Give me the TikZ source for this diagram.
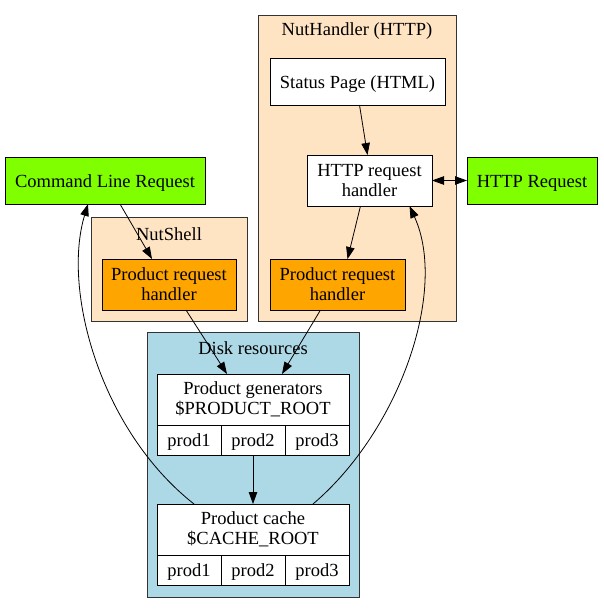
\documentclass[tikz,border=0pt]{standalone}
\usepackage{fontspec}
\setmainfont{Liberation Serif}
\usetikzlibrary{arrows.meta, positioning}
\definecolor{reqGreen}{RGB}{127, 255, 0}
\definecolor{handlerOrange}{RGB}{255, 165, 0}
\definecolor{clusterBisque}{RGB}{255, 228, 196}
\definecolor{diskBlue}{RGB}{173, 216, 230}

\begin{document}
\begin{tikzpicture}[x=1pt, y=-1pt,
    every node/.style={font=\fontsize{18.5}{20}\selectfont},
    block/.style={rectangle, draw=black, fill=#1, inner sep=0pt, outer sep=0pt, align=center, line width=0.8pt},
    oneline/.style={text height=16pt, text depth=3pt},
    cluster/.style={rectangle, draw=black!80, fill=#1, inner sep=0pt, line width=0.8pt},
    cell/.style={block=white, oneline, minimum width=64pt, minimum height=30pt},
    clusterlabel/.style={inner sep=0pt},
    flow/.style={-{Triangle[length=12pt, width=8.5pt]}, draw=black, line width=0.8pt},
]
\useasboundingbox (0,0) rectangle (603,613);
% CLUSTERS
\node[cluster=clusterBisque, minimum width=198pt, minimum height=306pt] (nuthandler) at (357,168) {};
\node[clusterlabel] at (357,31.5) {NutHandler (HTTP)};
\node[cluster=clusterBisque, minimum width=156pt, minimum height=104pt] (nutshell) at (169,269) {};
\node[clusterlabel] at (169,234.5) {NutShell};
\node[cluster=diskBlue, minimum width=212pt, minimum height=265pt] (disk) at (253,464.5) {};
\node[clusterlabel] at (253,348.5) {Disk resources};
% REQUESTS
\node[block=reqGreen, oneline, minimum width=200pt, minimum height=47pt] (cline) at (105,180.5) {Command Line Request};
\node[block=reqGreen, oneline, minimum width=130pt, minimum height=47pt] (httpreq) at (532,180.5) {HTTP Request};
% HANDLERS
\node[block=white, oneline, minimum width=175pt, minimum height=47pt] (status) at (357.5,81.5) {Status Page (HTML)};
\node[block=white, minimum width=125pt, minimum height=51pt] (http) at (369.5,180.5) {HTTP request\\handler};
\node[block=handlerOrange, minimum width=135pt, minimum height=51pt] (prh_http) at (337.5,284.5) {Product request\\handler};
\node[block=handlerOrange, minimum width=134pt, minimum height=51pt] (prh_shell) at (169,284.5) {Product request\\handler};
% DISK RECORDS
\node[block=white, minimum width=192pt, minimum height=51pt] (gen) at (253,399.5) {Product generators\\ \$PRODUCT\_ROOT};
\node[cell, anchor=north west] (gen1) at (gen.south west) {prod1};
\node[cell, right=0pt of gen1] (gen2) {prod2};
\node[cell, right=0pt of gen2] (gen3) {prod3};
\node[block=white, minimum width=192pt, minimum height=51pt] (cache) at (253,529.5) {Product cache\\ \$CACHE\_ROOT};
\node[cell, anchor=north west] (cache1) at (cache.south west) {prod1};
\node[cell, right=0pt of cache1] (cache2) {prod2};
\node[cell, right=0pt of cache2] (cache3) {prod3};
% EDGES
\draw[flow] ([xshift=15pt]cline.south) -- ([xshift=-17pt]prh_shell.north);
\draw[flow] ([xshift=2pt]status.south) -- ([xshift=-2pt]http.north);
\draw[flow, {Triangle[length=12pt, width=8.5pt]}-{Triangle[length=12pt, width=8.5pt]}] (http.east) -- (httpreq.west);
\draw[flow] ([xshift=-9pt]http.south) -- ([xshift=10pt]prh_http.north);
\draw[flow] ([xshift=17pt]prh_shell.south) -- ([xshift=-26pt]gen.north);
\draw[flow] ([xshift=-17pt]prh_http.south) -- ([xshift=29pt]gen.north);
\draw[flow] (gen2.south) -- (cache.north);
\draw[flow] ([xshift=37pt]cache.north west) .. controls (100,430) and (62,290) .. ([xshift=-17pt]cline.south);
\draw[flow] ([xshift=-36pt]cache.north east) .. controls (400,430) and (448,290) .. ([xshift=40pt]http.south);
\end{tikzpicture}
\end{document}
